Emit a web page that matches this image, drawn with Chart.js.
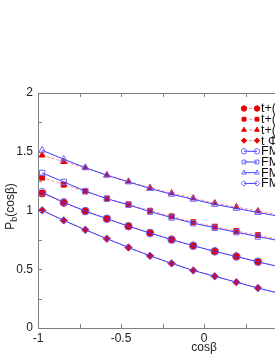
<!DOCTYPE html>
<html>
<head>
<meta charset="utf-8">
<script src="https://cdn.jsdelivr.net/npm/chart.js@4.4.1/dist/chart.umd.min.js"></script>
<style>
  html, body { margin: 0; padding: 0; overflow: hidden; background: #fff; }
  #wrap { width: 275px; height: 356px; overflow: hidden; }
</style>
</head>
<body>
<div id="wrap"><canvas id="pb" width="390" height="356"></canvas></div>
<script>
// cos(beta) bin centres (last one sits just past the visible edge)
const cosBeta = [-0.975, -0.845, -0.715, -0.585, -0.455, -0.325, -0.195, -0.065, 0.065, 0.195, 0.325, 0.455];

// t+ ... (red, filled markers, dashed line)
const tCircle   = [1.145, 1.065, 0.995, 0.930, 0.866, 0.810, 0.753, 0.700, 0.653, 0.610, 0.565, 0.520];
const tSquare   = [1.280, 1.220, 1.163, 1.102, 1.052, 0.998, 0.950, 0.900, 0.862, 0.825, 0.790, 0.752];
const tTriangle = [1.470, 1.415, 1.362, 1.302, 1.248, 1.194, 1.148, 1.105, 1.063, 1.030, 0.995, 0.960];
const tDiamond  = [1.000, 0.915, 0.835, 0.760, 0.685, 0.615, 0.550, 0.490, 0.440, 0.390, 0.340, 0.295];

// FM ... (blue, open markers, solid line)
const fmCircle   = [1.155, 1.070, 0.995, 0.930, 0.866, 0.808, 0.752, 0.700, 0.652, 0.608, 0.563, 0.520];
const fmSquare   = [1.320, 1.243, 1.165, 1.100, 1.048, 0.990, 0.940, 0.892, 0.853, 0.815, 0.778, 0.742];
const fmTriangle = [1.513, 1.436, 1.365, 1.300, 1.243, 1.187, 1.138, 1.095, 1.052, 1.018, 0.983, 0.950];
const fmDiamond  = [1.002, 0.916, 0.836, 0.760, 0.685, 0.614, 0.550, 0.490, 0.440, 0.390, 0.340, 0.295];

const legendLabels = ["t+(a)", "t+(b)", "t+(c)", "t \u03a6", "FM(a)", "FM(b)", "FM(c)", "FM(d)"];

const xTicks = [-1, -0.5, 0, 0.5, 1];
const yTicks = [0, 0.5, 1, 1.5, 2];

const RED = "#e80000";
const RED_LINE = "#ff8a8a";
const BLUE = "#6a6aff";
const BLUE_LINE = "#3c3cff";
const FRAME = "#7f7f7f";

function pts(ys) {
    return ys.map((y, i) => ({ x: cosBeta[i], y: y }));
}

function redSet(label, ys, style) {
    return {
        label: label,
        data: pts(ys),
        order: 1,
        borderColor: RED_LINE,
        borderWidth: 1,
        borderDash: [3, 2],
        pointStyle: style,
        pointRadius: 3.5,
        pointBackgroundColor: RED,
        pointBorderColor: RED,
        pointBorderWidth: 1,
        tension: 0
    };
}

function blueSet(label, ys, style) {
    return {
        label: label,
        data: pts(ys),
        order: 0,
        borderColor: BLUE_LINE,
        borderWidth: 1,
        pointStyle: style,
        pointRadius: 3.8,
        pointBackgroundColor: "rgba(255,255,255,0)",
        pointBorderColor: BLUE,
        pointBorderWidth: 1,
        tension: 0
    };
}

const datasets = [
    redSet(legendLabels[0], tCircle, "circle"),
    redSet(legendLabels[1], tSquare, "rect"),
    redSet(legendLabels[2], tTriangle, "triangle"),
    redSet(legendLabels[3], tDiamond, "rectRot"),
    blueSet(legendLabels[4], fmCircle, "circle"),
    blueSet(legendLabels[5], fmSquare, "rect"),
    blueSet(legendLabels[6], fmTriangle, "triangle"),
    blueSet(legendLabels[7], fmDiamond, "rectRot")
];

function isMajor(v, list) {
    return list.some(t => Math.abs(t - v) < 1e-6);
}

// inward tick marks + top/right frame lines
const frameTicks = {
    id: "frameTicks",
    afterDraw(chart) {
        const ctx = chart.ctx;
        const a = chart.chartArea;
        const xs = chart.scales.x, ys = chart.scales.y;
        ctx.save();
        ctx.strokeStyle = FRAME;
        ctx.lineWidth = 1;
        ctx.beginPath();
        ctx.moveTo(a.left, a.top + 0.5);
        ctx.lineTo(a.right, a.top + 0.5);
        ctx.moveTo(a.right - 0.5, a.top);
        ctx.lineTo(a.right - 0.5, a.bottom);
        xs.ticks.forEach(t => {
            const px = Math.round(xs.getPixelForValue(t.value)) + 0.5;
            ctx.moveTo(px, a.bottom);
            ctx.lineTo(px, a.bottom - 4);
            ctx.moveTo(px, a.top);
            ctx.lineTo(px, a.top + 4);
        });
        ys.ticks.forEach(t => {
            const py = Math.round(ys.getPixelForValue(t.value)) + 0.5;
            ctx.moveTo(a.left, py);
            ctx.lineTo(a.left + 4, py);
            ctx.moveTo(a.right, py);
            ctx.lineTo(a.right - 4, py);
        });
        ctx.stroke();
        ctx.restore();
    }
};

// y title with subscript
const yTitle = {
    id: "yTitle",
    afterDraw(chart) {
        const ctx = chart.ctx;
        const a = chart.chartArea;
        ctx.save();
        ctx.translate(11, (a.top + a.bottom) / 2 - 4);
        ctx.rotate(-Math.PI / 2);
        ctx.fillStyle = "#222";
        ctx.textBaseline = "middle";
        const big = "12px 'Liberation Sans', Arial, sans-serif";
        const small = "9px 'Liberation Sans', Arial, sans-serif";
        ctx.font = big;
        const wP = ctx.measureText("P").width;
        const wRest = ctx.measureText("(cos\u03b2)").width;
        ctx.font = small;
        const wb = ctx.measureText("b").width;
        let x = -(wP + wb + wRest) / 2;
        ctx.font = big;
        ctx.fillText("P", x, 0);
        x += wP;
        ctx.font = small;
        ctx.fillText("b", x, 4);
        x += wb;
        ctx.font = big;
        ctx.fillText("(cos\u03b2)", x, 0);
        ctx.restore();
    }
};

// legend: short line with a marker at each end
const lineLegend = {
    id: "lineLegend",
    afterDraw(chart) {
        const ctx = chart.ctx;
        const a = chart.chartArea;
        const x0 = a.right - 126;
        const y0 = a.top + 15.5;
        const rowH = 10.7;
        ctx.save();
        chart.data.datasets.forEach((ds, i) => {
            const y = y0 + i * rowH;
            ctx.strokeStyle = ds.borderColor;
            ctx.lineWidth = 1;
            ctx.setLineDash(ds.borderDash || []);
            ctx.beginPath();
            ctx.moveTo(x0, y);
            ctx.lineTo(x0 + 13, y);
            ctx.stroke();
            ctx.setLineDash([]);
            ctx.fillStyle = ds.pointBackgroundColor;
            ctx.strokeStyle = ds.pointBorderColor;
            const opts = { pointStyle: ds.pointStyle, radius: 2.7, borderWidth: 1, rotation: 0 };
            Chart.helpers.drawPoint(ctx, opts, x0, y);
            Chart.helpers.drawPoint(ctx, opts, x0 + 13, y);
            ctx.fillStyle = "#111";
            ctx.font = "12.5px 'Liberation Sans', Arial, sans-serif";
            ctx.textBaseline = "middle";
            ctx.fillText(ds.label, x0 + 17, y + 0.5);
        });
        ctx.restore();
    }
};

new Chart(document.getElementById("pb"), {
    type: "line",
    data: { datasets: datasets },
    options: {
        responsive: false,
        animation: false,
        layout: { padding: { top: 93, right: 20, left: 0, bottom: 0 } },
        plugins: {
            legend: { display: false },
            tooltip: { enabled: false }
        },
        scales: {
            x: {
                type: "linear",
                min: -1,
                max: 1,
                afterFit: (s) => { s.height = 28; },
                grid: { display: false, drawTicks: false },
                border: { color: FRAME, width: 1 },
                ticks: {
                    stepSize: 0.25,
                    autoSkip: false,
                    maxRotation: 0,
                    padding: 3,
                    color: "#222",
                    font: { family: "'Liberation Sans', Arial, sans-serif", size: 12 },
                    callback: (v) => isMajor(v, xTicks) ? String(v) : ""
                },
                title: {
                    display: true,
                    text: "cos\u03b2",
                    color: "#222",
                    padding: { top: 0, bottom: 1 },
                    font: { family: "'Liberation Sans', Arial, sans-serif", size: 12 }
                }
            },
            y: {
                min: 0,
                max: 2,
                afterFit: (s) => { s.width = 38; },
                grid: { display: false, drawTicks: false },
                border: { color: FRAME, width: 1 },
                ticks: {
                    stepSize: 0.25,
                    autoSkip: false,
                    padding: 5,
                    color: "#222",
                    font: { family: "'Liberation Sans', Arial, sans-serif", size: 12 },
                    callback: (v) => isMajor(v, yTicks) ? String(v) : ""
                }
            }
        }
    },
    plugins: [frameTicks, yTitle, lineLegend]
});
</script>
</body>
</html>
